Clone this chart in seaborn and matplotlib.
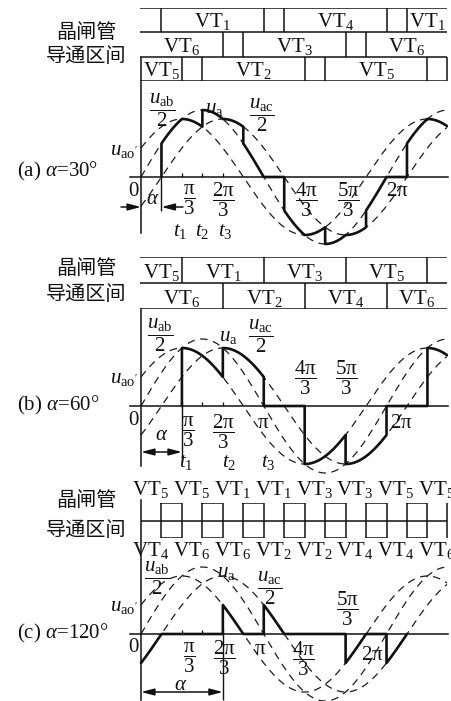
import numpy as np
import pandas as pd
import matplotlib
matplotlib.use("Agg")
import matplotlib.pyplot as plt
import seaborn as sns

# ---------------------------------------------------------------- data
ALPHAS = [30, 60, 120]                 # firing angle of each case (deg)
PANEL_TAGS = ["(a)", "(b)", "(c)"]

# reference voltages, in units of the phase amplitude
CURVE_KEYS = ["uab", "ua", "uac"]
CURVE_AMPS = [np.sqrt(3) / 2, 1.0, np.sqrt(3) / 2]
CURVE_SHIFTS = [30, 0, -30]            # phase lead (deg)

# conduction table, alpha = 30 deg (three rows)
A_ROW_NAMES = [["1", "4", "1"], ["6", "3", "6"], ["5", "2", "5"]]
A_ROW_ON = [[30, 210, 390], [-30, 150, 330], [-90, 90, 270]]
A_ROW_OFF = [[180, 360, 540], [120, 300, 480], [60, 240, 420]]

# conduction table, alpha = 60 deg (two rows)
B_ROW_NAMES = [["5", "1", "3", "5", "1"], ["6", "2", "4", "6"]]
B_ROW_ON = [[-60, 60, 180, 300, 420], [0, 120, 240, 360]]
B_ROW_OFF = [[60, 180, 300, 420, 540], [120, 240, 360, 480]]

# conduction pairs, alpha = 120 deg (each pair conducts 30 deg)
C_ON = [0, 60, 120, 180, 240, 300, 360, 420]
C_WIDTH = 30
C_TOP = ["5", "5", "1", "1", "3", "3", "5", "5"]
C_BOTTOM = ["4", "6", "6", "2", "2", "4", "4", "6"]

# output voltage u_ao': segment start angles and the voltage it follows
A_SEG_START = [30, 60, 90, 120, 150, 180, 210, 240, 270, 300, 330, 360, 390, 420]
A_SEG_SRC = ["ua", "uab", "ua", "uac", "ua", "0", "ua", "uab", "ua", "uac", "ua", "0", "ua", "uab"]
B_SEG_START = [60, 120, 180, 240, 300, 360, 420]
B_SEG_SRC = ["uab", "uac", "0", "uab", "uac", "0", "uab"]
C_SEG_START = [0, 30, 120, 150, 180, 210, 300, 330, 360]
C_SEG_SRC = ["uac", "0", "uab", "0", "uac", "0", "uab", "0", "uac"]
C_SEG_LAST = 390

TICK_ANGLES = [60, 90, 120]

# ---------------------------------------------------------------- style
sns.set_theme(style="white")
plt.rcParams["font.family"] = ["Liberation Serif", "Noto Sans CJK SC"]
plt.rcParams["mathtext.fontset"] = "custom"
plt.rcParams["mathtext.rm"] = "Liberation Serif"
plt.rcParams["mathtext.it"] = "Liberation Serif:italic"
plt.rcParams["mathtext.bf"] = "Liberation Serif:bold"
plt.rcParams["axes.unicode_minus"] = False

INK = "#111111"
FS = 15
W, H = 452, 701
fig = plt.figure(figsize=(W / 100, H / 100), dpi=100)

X0, K, U = 141.0, 0.682, 67.0          # angle origin (px), px per deg, amplitude (px)
XL, XR = 130, 448
XLIM = ((XL - X0) / K, (XR - X0) / K)
END = (447 - X0) / K


def add_ax(top, bottom):
    ax = fig.add_axes([XL / W, 1 - bottom / H, (XR - XL) / W, (bottom - top) / H])
    ax.patch.set_alpha(0)
    ax.set_xlim(*XLIM)
    return ax


def ftext(x, y, s, **kw):
    kw.setdefault("ha", "center")
    kw.setdefault("va", "center")
    kw.setdefault("fontsize", FS)
    kw.setdefault("color", INK)
    fig.text(x / W, 1 - y / H, s, **kw)


def curve(key, deg):
    if key == "0":
        return np.zeros_like(deg)
    i = CURVE_KEYS.index(key)
    return CURVE_AMPS[i] * np.sin(np.radians(deg + CURVE_SHIFTS[i]))


def output_path(starts, srcs, last):
    xs, ys = [], []
    if srcs[0] != "0" and starts[0] > 0:
        xs.append(starts[0]); ys.append(0.0)
    bounds = list(starts) + [last]
    for s, e, src in zip(bounds[:-1], bounds[1:], srcs):
        d = np.linspace(s, e, 60)
        xs.extend(d); ys.extend(curve(src, d))
    return pd.DataFrame({"deg": xs, "v": ys})


def wave_axes(top, bottom, zero, spine_bottom, segs):
    ax = add_ax(top, bottom)
    ax.set_ylim((zero - bottom) / U, (zero - top) / U)
    for s in ("top", "right"):
        ax.spines[s].set_visible(False)
    for s in ("left", "bottom"):
        ax.spines[s].set_position(("data", 0))
        ax.spines[s].set_color(INK)
        ax.spines[s].set_linewidth(1.1)
    ax.spines["left"].set_bounds((zero - spine_bottom) / U, (zero - top) / U)
    ax.set_yticks([])
    ax.set_xticks(TICK_ANGLES)
    ax.tick_params(axis="x", bottom=True, direction="in", length=3, width=0.9,
                   color=INK, labelbottom=False)

    deg = np.linspace(0, END, 600)
    for key in CURVE_KEYS:
        df = pd.DataFrame({"deg": deg, "v": curve(key, deg)})
        sns.lineplot(data=df, x="deg", y="v", ax=ax, color="#1c1c1c", lw=0.9,
                     linestyle=(0, (6, 4.5)), sort=False, estimator=None, legend=False)
    sns.lineplot(data=segs, x="deg", y="v", ax=ax, color=INK, lw=1.9,
                 sort=False, estimator=None, legend=False)
    ax.set_xlabel(""); ax.set_ylabel("")
    return ax


def arrow(ax, x_from, x_to, y, style="-|>"):
    ax.annotate("", xy=(x_to, y), xytext=(x_from, y),
                arrowprops=dict(arrowstyle=style + ",head_length=0.65,head_width=0.17",
                                lw=1.1, color=INK, shrinkA=0, shrinkB=0))


def row_table(top, bottom, names, ons, offs, closed_rows):
    ax = add_ax(top, bottom)
    n = len(names)
    ax.set_ylim(n, 0)
    ax.axis("off")
    ax.hlines(range(n + 1), (140 - X0) / K, END, color=INK, lw=1.1)
    for r in range(n):
        edges = sorted({b for b in ons[r] + offs[r] if 0 < b < END})
        if r in closed_rows:
            edges = [0] + edges + [END]
        ax.vlines(edges, r, r + 1, color=INK, lw=1.1)
        for name, a, b in zip(names[r], ons[r], offs[r]):
            lo, hi = max(a, 0), min(b, END)
            if hi - lo > 40:
                ax.text((lo + hi) / 2, r + 0.8, "VT$_{%s}$" % name, ha="center",
                        va="baseline", fontsize=FS, color=INK)
    return ax


FRAC = {
    60: r"$\dfrac{\mathrm{\pi}}{3}$", 120: r"$\dfrac{2\mathrm{\pi}}{3}$",
    180: r"$\mathrm{\pi}$", 240: r"$\dfrac{4\mathrm{\pi}}{3}$",
    300: r"$\dfrac{5\mathrm{\pi}}{3}$", 360: r"$2\mathrm{\pi}$",
}
CURVE_TEX = {"uab": r"$\dfrac{u_{\mathrm{ab}}}{2}$", "ua": r"$u_{\mathrm{a}}$",
             "uac": r"$\dfrac{u_{\mathrm{ac}}}{2}$"}


def panel_text(idx, zero, cjk_y, curve_pos, tick_pos, alpha_pos, t_pos):
    ftext(86, cjk_y[0], "晶闸管", family=["Noto Sans CJK SC"], fontsize=14.5)
    ftext(86, cjk_y[1], "导通区间", family=["Noto Sans CJK SC"], fontsize=14.5)
    for key, (x, y) in curve_pos.items():
        ftext(x, y, CURVE_TEX[key])
    ftext(124, zero - 27, r"$u_{\mathrm{ao}'}$")
    ftext(17, zero - (6 if idx == 0 else 1),
          PANEL_TAGS[idx] + r" $\alpha$=%d°" % ALPHAS[idx], ha="left")
    ftext(133, zero + 14, "0")
    for ang, (x, y) in tick_pos.items():
        ftext(x, y, FRAC[ang])
    ftext(alpha_pos[0], alpha_pos[1], r"$\alpha$")
    for i, (x, y) in enumerate(t_pos):
        ftext(x, y, r"$t_{%d}$" % (i + 1))


# ---------------------------------------------------------------- (a)
row_table(8, 81, A_ROW_NAMES, A_ROW_ON, A_ROW_OFF, closed_rows=[2])
axa = wave_axes(81, 247, 177, 233, output_path(A_SEG_START, A_SEG_SRC, END))
ya = (177 - 207) / U
arrow(axa, (121 - X0) / K, 0, ya)
arrow(axa, (183 - X0) / K, ALPHAS[0], ya)
axa.vlines(ALPHAS[0], (177 - 211) / U, 0, color=INK, lw=1.0)
panel_text(0, 177, (32, 57),
           {"uab": (162, 110), "ua": (214, 108), "uac": (262, 115)},
           {60: (189, 200), 120: (223, 200), 240: (306, 200), 300: (348, 200), 360: (397, 192)},
           (153, 200), [(180, 231), (202, 231), (225, 231)])

# ---------------------------------------------------------------- (b)
row_table(257, 309, B_ROW_NAMES, B_ROW_ON, B_ROW_OFF, closed_rows=[])
axb = wave_axes(309, 475, 406, 466, output_path(B_SEG_START, B_SEG_SRC, END))
yb = (406 - 452) / U
arrow(axb, ALPHAS[1], 0, yb, style="<|-|>")
axb.vlines(ALPHAS[1], (406 - 462) / U, 0, color=INK, lw=1.0)
panel_text(1, 406, (268, 294),
           {"uab": (160, 335), "ua": (228, 337), "uac": (261, 336)},
           {60: (188, 432), 120: (223, 432), 180: (263, 423), 240: (305, 378),
            300: (346, 378), 360: (401, 423)},
           (162, 436), [(186, 462), (229, 462), (268, 462)])

# ---------------------------------------------------------------- (c)
axc_t = fig.add_axes([XL / W, 1 - 538 / H, (XR - XL) / W, 35 / H])
axc_t.patch.set_alpha(0)
axc_t.set_xlim(*XLIM)
axc_t.set_ylim(1, -1)
axc_t.axis("off")
axc_t.hlines(0, 0, END, color=INK, lw=1.1)
axc_t.vlines(END, -1.1, 1, color=INK, lw=1.1)
for k in range(len(C_ON) - 1):
    a, b = C_ON[k] + C_WIDTH, C_ON[k + 1]
    axc_t.plot([a, b, b, a, a], [-1, -1, 1, 1, -1], color=INK, lw=1.1)
for on, top_name, bot_name in zip(C_ON, C_TOP, C_BOTTOM):
    c = on + C_WIDTH / 2 - 1.5
    axc_t.text(c, -1.46, "VT$_{%s}$" % top_name, ha="center", va="baseline",
               fontsize=FS, color=INK, clip_on=False)
    axc_t.text(c, 2.03, "VT$_{%s}$" % bot_name, ha="center", va="baseline",
               fontsize=FS, color=INK, clip_on=False)

axc = wave_axes(500, 701, 634, 700, output_path(C_SEG_START, C_SEG_SRC, C_SEG_LAST))
yc = (634 - 692) / U
arrow(axc, ALPHAS[2], 0, yc, style="<|-|>")
axc.vlines(ALPHAS[2], (634 - 700) / U, 0, color=INK, lw=1.0)
panel_text(2, 634, (500, 531),
           {"uab": (157, 578), "ua": (226, 572), "uac": (270, 588)},
           {60: (189, 658), 120: (224, 658), 180: (260, 650), 240: (303, 659),
            300: (347, 609), 360: (372, 655)},
           (181, 685), [])

fig.savefig("out.png", dpi=100, facecolor="white")
